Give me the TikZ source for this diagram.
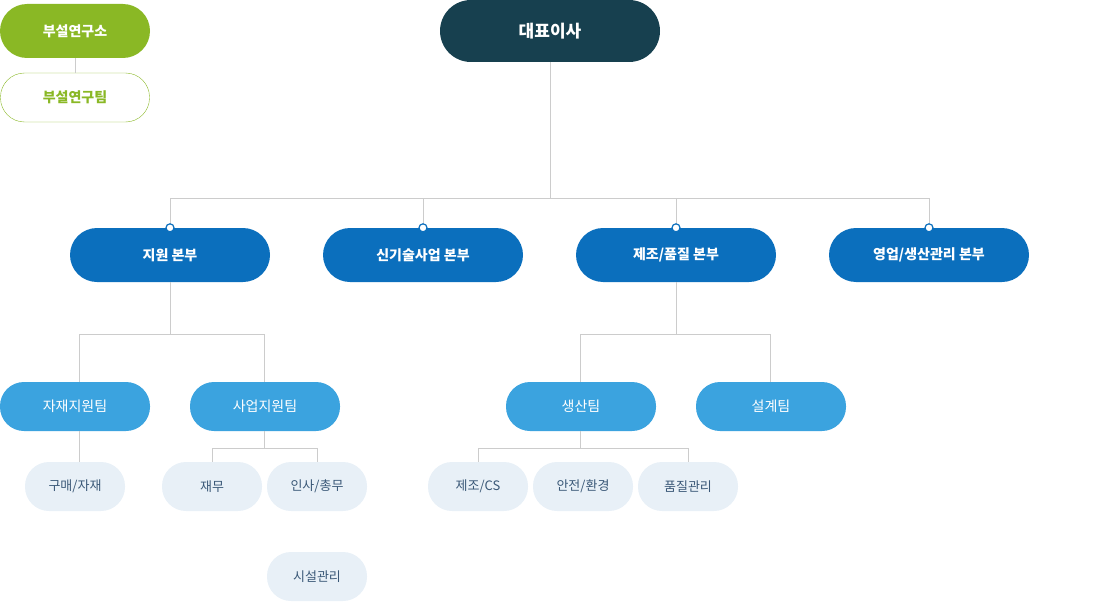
\documentclass[tikz,border=0pt]{standalone}
\usepackage{fontspec}
\setmainfont{Noto Sans CJK KR}
\definecolor{ceo}{HTML}{17404F}
\definecolor{grn}{HTML}{8AB825}
\definecolor{dept}{HTML}{0B6FBD}
\definecolor{team}{HTML}{3BA3DF}
\definecolor{sub}{HTML}{E8F0F7}
\definecolor{subt}{HTML}{3A5877}
\definecolor{ln}{HTML}{CCCCCC}
\begin{document}
\begin{tikzpicture}[x=1pt,y=-1pt,
  pill/.style={rounded corners=24pt,minimum height=50pt,inner sep=0pt},
  ceobox/.style={pill,fill=ceo,text=white,minimum width=220pt,minimum height=62pt,rounded corners=31pt,font=\bfseries\fontsize{17}{20}\selectfont},
  labbox/.style={pill,fill=grn,text=white,minimum width=150pt,minimum height=54pt,rounded corners=27pt,font=\bfseries\fontsize{14}{16}\selectfont},
  labteam/.style={pill,draw=grn,fill=white,text=grn,minimum width=149pt,minimum height=49pt,font=\bfseries\fontsize{14}{16}\selectfont},
  deptbox/.style={pill,fill=dept,text=white,minimum width=200pt,minimum height=54pt,rounded corners=27pt,font=\bfseries\fontsize{14}{16}\selectfont},
  teambox/.style={pill,fill=team,text=white,minimum width=150pt,minimum height=49pt,font=\fontsize{14}{16}\selectfont},
  subbox/.style={pill,fill=sub,text=subt,minimum width=100pt,minimum height=49pt,font=\fontsize{13}{16}\selectfont},
  conn/.style={draw=ln,line width=0.8pt},
  dot/.style={circle,draw=dept,fill=white,line width=1.2pt,minimum size=8pt,inner sep=0pt}]
\useasboundingbox (0,0) rectangle (1100,602);
\node[ceobox] (ceo) at (550,31) {대표이사};
\node[labbox] (lab) at (75,31) {부설연구소};
\node[labteam] (labt) at (75,97.5) {부설연구팀};
\node[deptbox] (d1) at (170,255) {지원 본부};
\node[deptbox] (d2) at (423,255) {신기술사업 본부};
\node[deptbox] (d3) at (676,255) {제조/품질 본부};
\node[deptbox] (d4) at (929,255) {영업/생산관리 본부};
\node[teambox] (t1) at (75,406.5) {자재지원팀};
\node[teambox] (t2) at (265,406.5) {사업지원팀};
\node[teambox] (t3) at (581,406.5) {생산팀};
\node[teambox] (t4) at (771,406.5) {설계팀};
\node[subbox] (s1) at (75,486.5) {구매/자재};
\node[subbox] (s2) at (212,486.5) {재무};
\node[subbox] (s3) at (317,486.5) {인사/총무};
\node[subbox] (s4) at (317,576.5) {시설관리};
\node[subbox] (s5) at (478,486.5) {제조/CS};
\node[subbox] (s6) at (583,486.5) {안전/환경};
\node[subbox] (s7) at (688,486.5) {품질관리};
\begin{scope}[on background layer/.style={}]
\draw[conn] (lab.south) -- (labt.north);
\draw[conn] (ceo.south) -- (550,198);
\draw[conn] (170,198) -- (929,198);
\foreach \n in {d1,d2,d3,d4} \draw[conn] (\n.north |- 0,198) -- (\n.north);
\draw[conn] (d1.south) -- (170,334) (79,334) -- (264,334) (79,334) -- (79,382) (264,334) -- (264,382);
\draw[conn] (d3.south) -- (676,334) (580,334) -- (770,334) (580,334) -- (580,382) (770,334) -- (770,382);
\draw[conn] (79,431) -- (79,462);
\draw[conn] (264,431) -- (264,448) (212,448) -- (317,448) (212,448) -- (212,462) (317,448) -- (317,462);
\draw[conn] (580,431) -- (580,448) (478,448) -- (688,448) (478,448) -- (478,462) (688,448) -- (688,462);
\end{scope}
\foreach \n in {d1,d2,d3,d4} \node[dot] (c\n) at (\n.north) {};
\end{tikzpicture}
\end{document}
